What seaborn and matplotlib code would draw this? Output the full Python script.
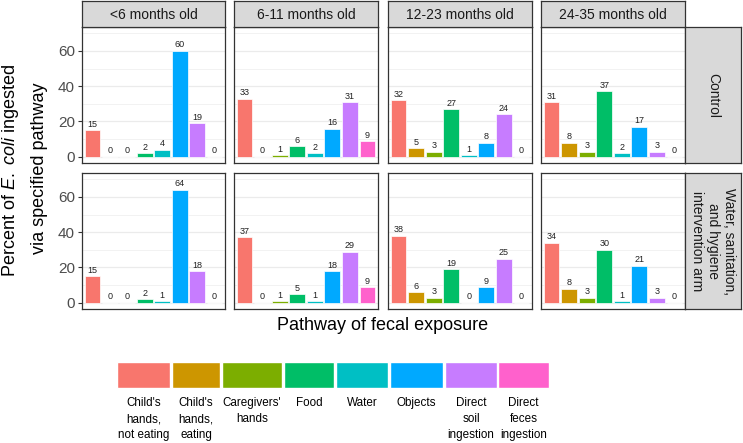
import numpy as np
import pandas as pd
import matplotlib
matplotlib.use("Agg")
import matplotlib.pyplot as plt
from matplotlib.patches import Rectangle
import seaborn as sns

sns.set_style("white")
plt.rcParams['font.family'] = ['Liberation Sans', 'DejaVu Sans']
plt.rcParams['mathtext.fontset'] = 'custom'
plt.rcParams['mathtext.rm'] = 'Liberation Sans'
plt.rcParams['mathtext.it'] = 'Liberation Sans:italic'

pathways = ["Child's hands, not eating", "Child's hands, eating", "Caregivers' hands",
            "Food", "Water", "Objects", "Direct soil ingestion", "Direct feces ingestion"]
legend_labels = ["Child's\nhands,\nnot eating", "Child's\nhands,\neating", "Caregivers'\nhands",
                 "Food", "Water", "Objects", "Direct\nsoil\ningestion", "Direct\nfeces\ningestion"]
ages = ["<6 months old", "6-11 months old", "12-23 months old", "24-35 months old"]
arms = ["Control", "Water, sanitation,\nand hygiene\nintervention arm"]
colors = ["#F8766D", "#CD9600", "#7CAE00", "#00BE67", "#00BFC4", "#00A9FF", "#C77CFF", "#FF61CC"]

control_lt6 = [15, 0, 0, 2, 4, 60, 19, 0]
control_6_11 = [33, 0, 1, 6, 2, 16, 31, 9]
control_12_23 = [32, 5, 3, 27, 1, 8, 24, 0]
control_24_35 = [31, 8, 3, 37, 2, 17, 3, 0]
wash_lt6 = [15, 0, 0, 2, 1, 64, 18, 0]
wash_6_11 = [37, 0, 1, 5, 1, 18, 29, 9]
wash_12_23 = [38, 6, 3, 19, 0, 9, 25, 0]
wash_24_35 = [34, 8, 3, 30, 1, 21, 3, 0]

values = {
    arms[0]: [control_lt6, control_6_11, control_12_23, control_24_35],
    arms[1]: [wash_lt6, wash_6_11, wash_12_23, wash_24_35],
}
rows = []
for arm in arms:
    for age, vals in zip(ages, values[arm]):
        for p, v in zip(pathways, vals):
            rows.append(dict(arm=arm, age=age, pathway=p, value=v))
df = pd.DataFrame(rows)

W, H = 743, 443
fig = plt.figure(figsize=(W / 100, H / 100), dpi=100)

def fx(px):
    return px / W

def fy(py):
    return 1 - py / H

panel_x = [(82, 225), (234, 378), (388, 532), (541, 685)]
panel_y = [(27, 163), (173, 309)]
strip_top = (1, 27)
strip_right = (685, 741)

pal = dict(zip(pathways, colors))
for r, arm in enumerate(arms):
    y0, y1 = panel_y[r]
    for c, age in enumerate(ages):
        x0, x1 = panel_x[c]
        ax = fig.add_axes([fx(x0), fy(y1), fx(x1 - x0), (y1 - y0) / H])
        sub = df[(df.arm == arm) & (df.age == age)]
        sns.barplot(data=sub, x="pathway", y="value", hue="pathway", order=pathways,
                    hue_order=pathways, palette=pal, legend=False, ax=ax, width=0.9,
                    edgecolor="white", linewidth=0.5, saturation=1, errorbar=None)
        for cont in ax.containers:
            ax.bar_label(cont, fmt="%d", padding=1, fontsize=6.5, color="#222222")
        ax.set_xlim(-0.6, 7.6)
        ax.set_ylim(-3.5, 73.5)
        ax.set_yticks([0, 20, 40, 60])
        ax.set_yticks([10, 30, 50, 70], minor=True)
        ax.grid(True, which="major", axis="y", color="#EBEBEB", linewidth=0.9)
        ax.grid(True, which="minor", axis="y", color="#EBEBEB", linewidth=0.45)
        ax.set_axisbelow(True)
        ax.set_xticks([])
        ax.set_xlabel("")
        ax.set_ylabel("")
        for s in ax.spines.values():
            s.set_color("#333333")
            s.set_linewidth(0.9)
        if c == 0:
            ax.tick_params(axis="y", which="major", left=True, length=3, width=0.8,
                           color="#333333", labelsize=11, labelcolor="#4D4D4D", pad=2)
            ax.tick_params(axis="y", which="minor", left=False)
        else:
            ax.tick_params(axis="y", which="both", left=False, labelleft=False)

# top strips
for c, age in enumerate(ages):
    x0, x1 = panel_x[c]
    sax = fig.add_axes([fx(x0), fy(strip_top[1]), fx(x1 - x0), (strip_top[1] - strip_top[0]) / H])
    sax.set_facecolor("#D9D9D9")
    sax.set_xticks([]); sax.set_yticks([])
    for s in sax.spines.values():
        s.set_color("#333333"); s.set_linewidth(0.9)
    sax.text(0.5, 0.48, age, ha="center", va="center", fontsize=10, color="#1A1A1A",
             transform=sax.transAxes)

# right strips
for r, arm in enumerate(arms):
    y0, y1 = panel_y[r]
    sax = fig.add_axes([fx(strip_right[0]), fy(y1), fx(strip_right[1] - strip_right[0]), (y1 - y0) / H])
    sax.set_facecolor("#D9D9D9")
    sax.set_xticks([]); sax.set_yticks([])
    for s in sax.spines.values():
        s.set_color("#333333"); s.set_linewidth(0.9)
    sax.text(0.5, 0.5, arm, ha="center", va="center", rotation=-90, fontsize=10,
             color="#1A1A1A", transform=sax.transAxes, linespacing=1.15,
             multialignment="center")

# axis titles
fig.text(fx(383), fy(325), "Pathway of fecal exposure", ha="center", va="center",
         fontsize=13, color="black")
fig.text(fx(11), fy(170), r"Percent of $\mathit{E.\ coli}$ ingested", ha="center",
         va="center", rotation=90, fontsize=13, color="black")
fig.text(fx(40), fy(168), "via specified pathway", ha="center", va="center",
         rotation=90, fontsize=13, color="black")

# legend
key_edges = [(117, 170), (172, 220), (222, 282), (284, 334), (336, 388), (390, 443), (445, 497), (498, 549)]
lx0, lx1 = 110, 560
lax = fig.add_axes([fx(lx0), fy(443), fx(lx1 - lx0), 100 / H])
lax.set_xlim(lx0, lx1)
lax.set_ylim(443, 343)
lax.axis("off")
for (a, b), col, lab in zip(key_edges, colors, legend_labels):
    lax.add_patch(Rectangle((a, 362), b - a, 26, facecolor=col, edgecolor="white", linewidth=1))
    lax.text((a + b) / 2, 397, lab, ha="center", va="top", fontsize=8.4, color="black",
             linespacing=1.45)

fig.savefig("out.png", dpi=100)
